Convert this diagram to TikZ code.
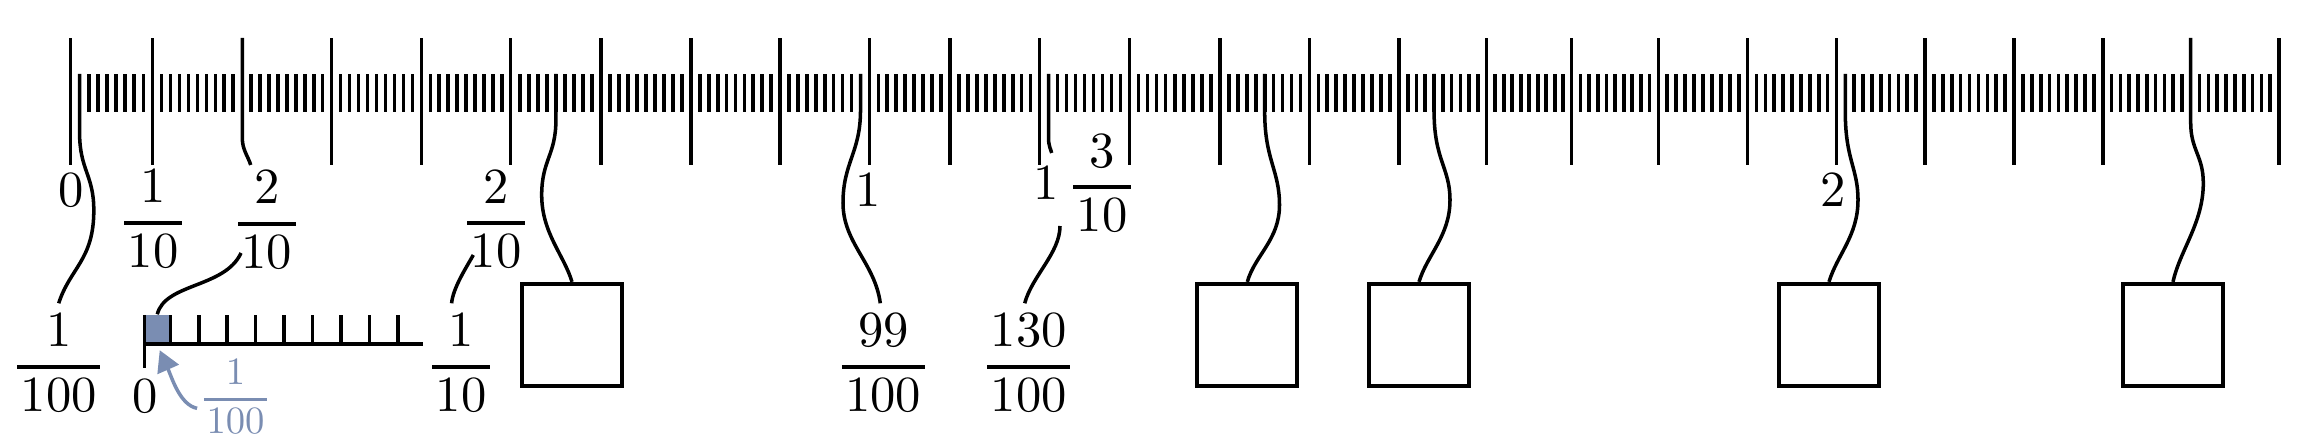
\documentclass[tikz,border=0pt]{standalone}
\usepackage{tikz}
\usetikzlibrary{calc}
\usetikzlibrary{arrows.meta}
\usepackage{color}
\definecolor{slate}{RGB}{122, 141, 178}
\setlength{\arrayrulewidth}{0.76pt}
\newcommand{\rulefrac}[2]{\begin{array}{@{\hspace{0.7pt}}c@{\hspace{0.7pt}}}#1\\\hline#2\end{array}}
\newcommand{\lbl}[1]{\scalebox{1.44}{$#1$}}
\tikzset{
  majortick/.style={line width=1.0pt},
  minortick/.style={line width=1.05pt},
  link/.style={line width=1.0pt},
  zoomruler/.style={line width=1.0pt},
  lab/.style={font=\fontsize{10}{12}\selectfont, inner sep=0pt, anchor=base},
  answerbox/.style={draw, line width=1.2pt, minimum width=1.00cm, minimum height=1.02cm, inner sep=0pt},
  pointer/.style={slate, line width=1.0pt, -{Triangle[length=6pt,width=6.5pt]}, shorten >=0.06cm},
}
\begin{document}
\begin{tikzpicture}
        \useasboundingbox (0,0) rectangle (23.23,4.48);
        % top ruler: long ticks
        \foreach \x in {0.705, 1.525, 3.315, 4.215, 5.107, 6.010, 6.910, 7.800, 8.694, 9.500, 10.395, 11.294,
                        12.200, 13.094, 13.990, 14.867, 15.717, 16.583, 17.476, 18.365, 19.249, 20.141, 21.028, 22.790}
            \draw[majortick] (\x, 2.83) -- (\x, 4.10);
        % top ruler: short ticks
        \foreach \a/\b in {0.705/1.525, 1.525/2.423, 2.423/3.315, 3.315/4.215, 4.215/5.107, 5.107/6.010, 6.010/6.910,
                           6.910/7.800, 7.800/8.694, 8.694/9.500, 9.500/10.395, 10.395/11.294, 11.294/12.200,
                           12.200/13.094, 13.094/13.990, 13.990/14.867, 14.867/15.717, 15.717/16.583, 16.583/17.476,
                           17.476/18.365, 18.365/19.249, 19.249/20.141, 20.141/21.028, 21.028/21.907, 21.907/22.790}{
            \pgfmathtruncatemacro{\nmin}{(\b-\a<0.83) ? 8 : 9}
            \foreach \k in {1,...,\nmin}
                \draw[minortick] ({\a+\k*(\b-\a)/(\nmin+1)}, 3.36) -- ++(0, 0.38);
        }
        \coordinate (m1)   at ( 0.796, 3.74);
        \coordinate (t2)   at ( 2.423, 4.10);
        \coordinate (m5)   at ( 5.559, 3.74);
        \coordinate (m99)  at ( 8.605, 3.74);
        \coordinate (m101) at (10.485, 3.74);
        \coordinate (m12)  at (12.647, 3.74);
        \coordinate (m14)  at (14.341, 3.74);
        \coordinate (m18)  at (18.453, 3.74);
        \coordinate (t24)  at (21.907, 4.10);
        \coordinate (e2)   at ( 2.507, 2.83);
        \coordinate (e3)   at ( 2.410, 1.95);
        \coordinate (e4)   at ( 4.733, 1.93);
        \coordinate (e6)   at (10.600, 2.22);
        \coordinate (e7)   at (10.517, 2.95);
        % labels of the top ruler
        \node[lab] (n0)    at ( 0.715, 2.413) {\lbl{0}};
        \node[lab] (f110)  at ( 1.533, 2.124) {\lbl{\rulefrac{1}{10}}};
        \node[lab] (f210a) at ( 2.670, 2.113) {\lbl{\rulefrac{2}{10}}};
        \node[lab] (f210b) at ( 4.960, 2.120) {\lbl{\rulefrac{2}{10}}};
        \node[lab] (n1)    at ( 8.680, 2.413) {\lbl{1}};
        \node[lab] (m13)   at (10.824, 2.480) {\lbl{1\;\rulefrac{3}{10}}};
        \node[lab] (n2)    at (18.327, 2.413) {\lbl{2}};
        % labels of the bottom row
        \node[lab] (f1100) at ( 0.587, 0.687) {\lbl{\rulefrac{1}{100}}};
        \node[lab] (s0)    at ( 1.450, 0.350) {\lbl{0}};
        \node[lab] (f10s)  at ( 4.610, 0.687) {\lbl{\rulefrac{1}{10}}};
        \node[lab] (f99)   at ( 8.833, 0.687) {\lbl{\rulefrac{99}{100}}};
        \node[lab] (f130)  at (10.287, 0.687) {\lbl{\rulefrac{130}{100}}};
        \node[lab, slate] (fb) at (2.355, 0.390)
             {\setlength{\arrayrulewidth}{0.72pt}\scalebox{1.1}{$\rulefrac{1}{100}$}};
        % empty boxes
        \node[answerbox] (b1) at ( 5.720, 1.13) {};
        \node[answerbox] (b2) at (12.473, 1.13) {};
        \node[answerbox] (b3) at (14.190, 1.13) {};
        \node[answerbox] (b4) at (18.290, 1.13) {};
        \node[answerbox] (b5) at (21.730, 1.13) {};
        % zoomed first tenth
        \node[fill=slate, minimum width=0.26cm, minimum height=0.29cm, inner sep=0pt] (sq) at (1.573, 1.185) {};
        \draw[zoomruler] (1.443, 1.33) -- (1.443, 0.80);
        \draw[zoomruler] (1.443, 1.04) -- (4.230, 1.04);
        \foreach \k in {0,...,8}
            \draw[zoomruler] ({1.703+0.2846*\k}, 1.04) -- ++(0, 0.29);
        \draw[pointer] ($(fb.west)+(-0.06,-0.09)$) .. controls (1.80, 0.43) and (1.72, 0.70) .. (sq.south);
        % connectors
        \draw[link] (m1) -- (0.796, 3.15) .. controls (0.796, 2.78) and (0.938, 2.73) .. (0.938, 2.38)
                         .. controls (0.940, 1.88) and (0.700, 1.80) .. (f1100.north);
        \draw[majortick] (t2) -- (2.423, 3.10) .. controls (2.423, 2.98) and (2.480, 2.92) .. (e2);
        \draw[link] (sq.north) .. controls (1.65, 1.65) and (2.25, 1.60) .. (e3);
        \draw[link] ($(f10s.north)+(-0.094,0)$) .. controls (4.53, 1.60) and (4.66, 1.80) .. (e4);
        \draw[link] (m99) -- (8.605, 3.36) .. controls (8.600, 2.95) and (8.430, 2.85) .. (8.430, 2.45)
                          .. controls (8.430, 2.05) and (8.750, 1.85) .. ($(f99.north)+(-0.03,0)$);
        \draw[link] ($(f130.north)+(-0.04,0)$) .. controls (10.32, 1.72) and (10.60, 1.95) .. (e6);
        \draw[link] (m101) -- (10.485, 3.10) .. controls (10.485, 3.02) and (10.510, 2.98) .. (e7);
        \draw[link] (m5) -- (5.559, 3.28) .. controls (5.559, 2.93) and (5.417, 2.88) .. (5.417, 2.53)
                         .. controls (5.417, 2.15) and (5.640, 1.93) .. (b1.north);
        \draw[link] (m12) -- (12.647, 3.36) .. controls (12.647, 2.88) and (12.795, 2.78) .. (12.795, 2.43)
                          .. controls (12.795, 2.08) and (12.550, 1.93) .. (b2.north);
        \draw[link] (m14) -- (14.341, 3.36) .. controls (14.341, 2.88) and (14.500, 2.80) .. (14.500, 2.48)
                          .. controls (14.500, 2.12) and (14.270, 1.93) .. (b3.north);
        \draw[link] (m18) -- (18.453, 3.36) .. controls (18.453, 2.88) and (18.580, 2.80) .. (18.580, 2.48)
                          .. controls (18.580, 2.12) and (18.370, 1.93) .. (b4.north);
        \draw[majortick] (t24) -- (21.907, 3.25) .. controls (21.907, 2.98) and (22.033, 2.92) .. (22.033, 2.65)
                               .. controls (22.033, 2.25) and (21.800, 1.98) .. (b5.north);
\end{tikzpicture}
\end{document}
